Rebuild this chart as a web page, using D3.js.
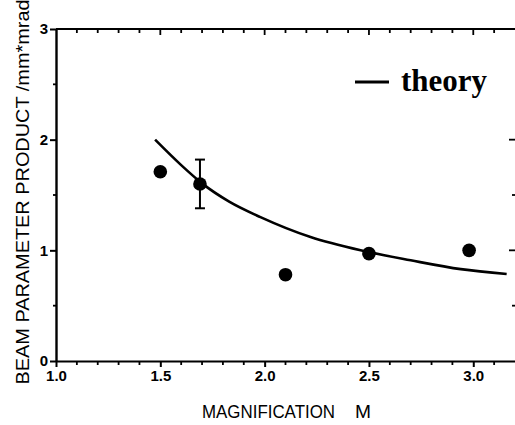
<!DOCTYPE html>
<html>
<head>
<meta charset="utf-8">
<script src="https://cdn.jsdelivr.net/npm/d3@7"></script>
<style>
  html, body { margin: 0; padding: 0; background: #fff; }
  svg { display: block; }
</style>
</head>
<body>
<div id="chart"></div>
<script>
// measured points
const magnification = [1.5, 1.69, 2.1, 2.5, 2.98];
const bpp = [1.71, 1.6, 0.78, 0.97, 1.0];
// error bar (only on the second point)
const errIndex = 1;
const errLow = 1.38;
const errHigh = 1.82;
// theory curve
const theoryM = [1.475, 1.6, 1.7, 1.83, 1.98, 2.22, 2.46, 2.7, 2.94, 3.16];
const theoryB = [2.0, 1.77, 1.605, 1.44, 1.3, 1.12, 1.0, 0.91, 0.83, 0.786];
// ticks
const xMajor = [1.0, 1.5, 2.0, 2.5, 3.0];
const yMajor = [0, 1, 2, 3];

function chartBpp(tagName) {
  const width = 515;
  const height = 425;
  const margin = { top: 29, left: 56, bottom: 64, right: 0 };
  const tickFont = 'bold 15px "Liberation Sans", Arial, sans-serif';
  const titleFont = '18px "Liberation Sans", Arial, sans-serif';

  const x = d3.scaleLinear().domain([1.0, 3.2]).range([margin.left, 515]);
  const y = d3.scaleLinear().domain([0, 3]).range([height - margin.bottom, margin.top]);

  const svg = d3
    .select(tagName)
    .append('svg')
    .attr('width', width)
    .attr('height', height)
    .attr('viewBox', `0 0 ${width} ${height}`);

  const xMinor = d3.range(10, 32).map((d) => d / 10).filter((d) => !xMajor.includes(d));
  const yMinor = [0.5, 1.5, 2.5];

  // bottom axis, ticks hang down
  const xBottom = (g) =>
    g
      .attr('transform', `translate(0, ${y(0)})`)
      .call(d3.axisBottom(x).tickValues(xMajor).tickFormat(d3.format('.1f')).tickSize(6).tickSizeOuter(0).tickPadding(3))
      .call((g) => g.select('.domain').attr('stroke-width', 2.2))
      .call((g) => g.selectAll('.tick line').attr('stroke-width', 2))
      .call((g) => g.selectAll('text').style('font', tickFont).attr('fill', '#000'));
  svg.append('g').call(xBottom);
  svg.append('g')
    .selectAll('line')
    .data(xMinor)
    .join('line')
    .attr('x1', (d) => x(d)).attr('x2', (d) => x(d))
    .attr('y1', y(0)).attr('y2', y(0) + 4)
    .attr('stroke', '#000').attr('stroke-width', 1.8);

  // top axis, ticks point inward
  svg.append('line')
    .attr('x1', x(1)).attr('x2', x(3.2))
    .attr('y1', y(3)).attr('y2', y(3))
    .attr('stroke', '#000').attr('stroke-width', 2);
  svg.append('g')
    .selectAll('line')
    .data(xMajor.concat(xMinor).filter((d) => d > 1))
    .join('line')
    .attr('x1', (d) => x(d)).attr('x2', (d) => x(d))
    .attr('y1', y(3)).attr('y2', (d) => y(3) + (xMajor.includes(d) ? 6 : 4))
    .attr('stroke', '#000').attr('stroke-width', 1.8);

  // left axis
  const yLeft = (g) =>
    g
      .attr('transform', `translate(${margin.left}, 0)`)
      .call(d3.axisLeft(y).tickValues(yMajor).tickFormat(d3.format('d')).tickSize(6).tickSizeOuter(0).tickPadding(2))
      .call((g) => g.select('.domain').attr('stroke-width', 2.4))
      .call((g) => g.selectAll('.tick line').attr('stroke-width', 2))
      .call((g) => g.selectAll('text').style('font', tickFont).attr('fill', '#000'));
  svg.append('g').call(yLeft);
  svg.append('g')
    .selectAll('line')
    .data(yMinor)
    .join('line')
    .attr('x1', margin.left - 3).attr('x2', margin.left)
    .attr('y1', (d) => y(d)).attr('y2', (d) => y(d))
    .attr('stroke', '#000').attr('stroke-width', 1.8);

  // right side: only tick marks visible at the picture edge
  svg.append('g')
    .selectAll('line')
    .data([0.5, 1, 1.5, 2])
    .join('line')
    .attr('x1', (d) => (d % 1 === 0 ? 509 : 512)).attr('x2', 515)
    .attr('y1', (d) => y(d)).attr('y2', (d) => y(d))
    .attr('stroke', '#000').attr('stroke-width', 1.8);

  // theory curve
  const line = d3.line()
    .x((d, i) => x(theoryM[i]))
    .y((d, i) => y(theoryB[i]))
    .curve(d3.curveMonotoneX);
  svg.append('path')
    .datum(theoryM)
    .attr('d', line)
    .attr('fill', 'none')
    .attr('stroke', '#000')
    .attr('stroke-width', 2.6);

  // error bar
  const ex = x(magnification[errIndex]);
  const eb = svg.append('g').attr('stroke', '#000').attr('stroke-width', 2);
  eb.append('line').attr('x1', ex).attr('x2', ex).attr('y1', y(errHigh)).attr('y2', y(errLow));
  eb.append('line').attr('x1', ex - 5).attr('x2', ex + 5).attr('y1', y(errHigh)).attr('y2', y(errHigh));
  eb.append('line').attr('x1', ex - 5).attr('x2', ex + 5).attr('y1', y(errLow)).attr('y2', y(errLow));

  // data points
  svg.append('g')
    .selectAll('circle')
    .data(magnification)
    .join('circle')
    .attr('cx', (d) => x(d))
    .attr('cy', (d, i) => y(bpp[i]))
    .attr('r', 6.8)
    .attr('fill', '#000');

  // legend
  svg.append('line')
    .attr('x1', 355).attr('x2', 389)
    .attr('y1', 82).attr('y2', 82)
    .attr('stroke', '#000').attr('stroke-width', 3);
  svg.append('text')
    .attr('x', 401).attr('y', 91)
    .attr('textLength', 86)
    .attr('lengthAdjust', 'spacingAndGlyphs')
    .text('theory')
    .style('font', 'bold 31px "Liberation Serif", "Times New Roman", serif');

  // axis titles
  svg.append('text')
    .attr('x', 202).attr('y', 418)
    .attr('textLength', 133)
    .attr('lengthAdjust', 'spacingAndGlyphs')
    .text('MAGNIFICATION')
    .style('font', titleFont);
  svg.append('text')
    .attr('x', 355).attr('y', 418)
    .attr('textLength', 16)
    .attr('lengthAdjust', 'spacingAndGlyphs')
    .text('M')
    .style('font', titleFont);
  svg.append('text')
    .attr('transform', 'translate(29, 192) rotate(-90)')
    .attr('text-anchor', 'middle')
    .attr('textLength', 385)
    .attr('lengthAdjust', 'spacingAndGlyphs')
    .text('BEAM PARAMETER PRODUCT /mm*mrad')
    .style('font', titleFont);
}

chartBpp('#chart');
</script>
</body>
</html>
